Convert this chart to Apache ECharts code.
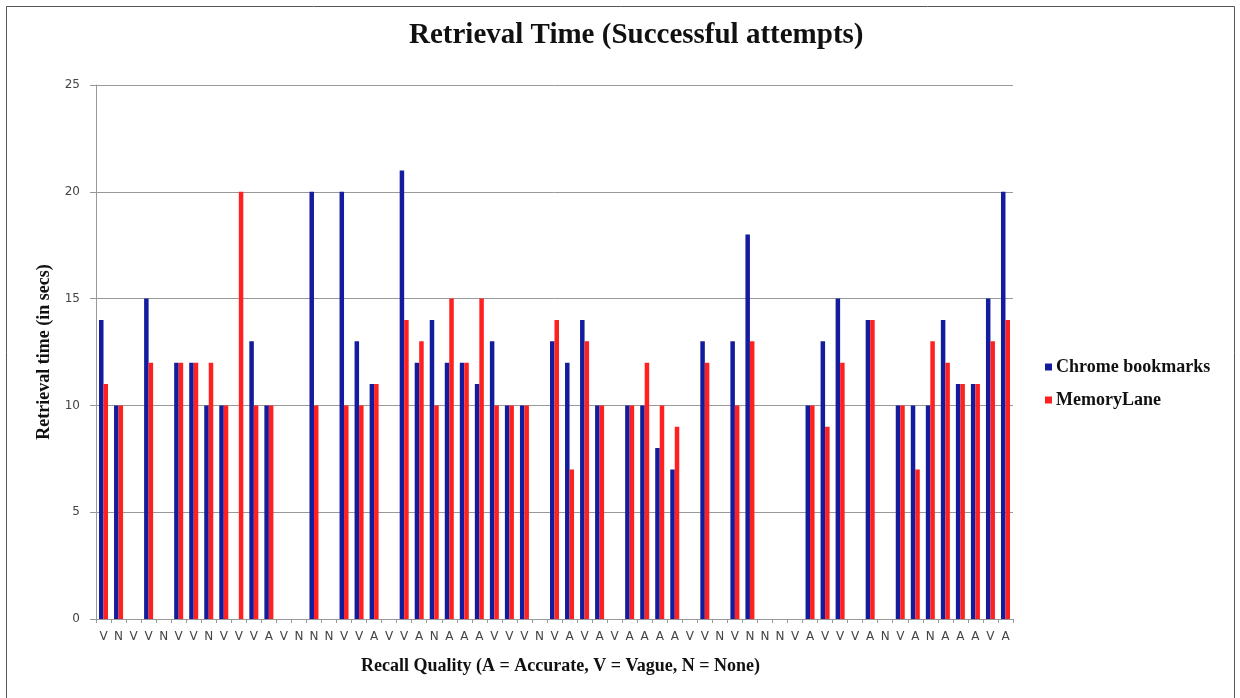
<!DOCTYPE html>
<html>
<head>
<meta charset="utf-8">
<title>Retrieval Time (Successful attempts)</title>
<script src="https://cdn.jsdelivr.net/npm/echarts@6/dist/echarts.min.js"></script>
<style>
  html, body { margin: 0; padding: 0; background: #ffffff; }
  #chart { width: 1240px; height: 698px; }
</style>
</head>
<body>
<div id="chart"></div>
<script>
// Recall quality for each trial: A = Accurate, V = Vague, N = None
const recallQuality = [
  'V','N','V','V','N','V','V','N','V','V','V','A','V','N','N','N','V','V','A','V',
  'V','A','N','A','A','A','V','V','V','N','V','A','V','A','V','A','A','A','A','V',
  'V','N','V','N','N','N','V','A','V','V','V','A','N','V','A','N','A','A','A','V','A'
];

// Retrieval time in seconds (null = no successful attempt)
const chromeBookmarks = [
  14, 10, null, 15, null, 12, 12, 10, 10, null, 13, 10, null, null, 20, null, 20, 13, 11, null,
  21, 12, 14, 12, 12, 11, 13, 10, 10, null, 13, 12, 14, 10, null, 10, 10, 8, 7, null,
  13, null, 13, 18, null, null, null, 10, 13, 15, null, 14, null, 10, 10, 10, 14, 11, 11, 15, 20
];

const memoryLane = [
  11, 10, null, 12, null, 12, 12, 12, 10, 20, 10, 10, null, null, 10, null, 10, 10, 11, null,
  14, 13, 10, 15, 12, 15, 10, 10, 10, null, 14, 7, 13, 10, null, 10, 12, 10, 9, null,
  12, null, 10, 13, null, null, null, 10, 9, 12, null, 14, null, 10, 7, 13, 12, 11, 11, 13, 14
];

const yTicks = { min: 0, max: 25, interval: 5 };

const serif = '"Liberation Serif", "Times New Roman", serif';
const sans = '"DejaVu Sans", Verdana, sans-serif';

const chart = echarts.init(document.getElementById('chart'), null, { renderer: 'canvas' });

chart.setOption({
  backgroundColor: '#ffffff',
  animation: false,
  graphic: [{
    type: 'rect',
    left: 4, top: 4,
    shape: { width: 1228, height: 710 },
    style: { fill: 'none', stroke: '#555555', lineWidth: 1 },
    silent: true
  }],
  title: {
    text: 'Retrieval Time (Successful attempts)',
    left: 404,
    top: 16,
    textStyle: { fontFamily: serif, fontWeight: 'bold', fontSize: 29, color: '#111111' }
  },
  legend: {
    orient: 'vertical',
    left: 1040,
    top: 353,
    itemWidth: 7,
    itemHeight: 7,
    itemGap: 15,
    icon: 'rect',
    textStyle: { fontFamily: serif, fontWeight: 'bold', fontSize: 18, color: '#111111', padding: [0, 0, 0, -1] },
    data: ['Chrome bookmarks', 'MemoryLane']
  },
  grid: { left: 96, top: 85, width: 917, height: 534, containLabel: false },
  xAxis: {
    type: 'category',
    data: recallQuality,
    name: 'Recall Quality (A = Accurate, V = Vague, N = None)',
    nameLocation: 'middle',
    nameGap: 38,
    nameTextStyle: { fontFamily: serif, fontWeight: 'bold', fontSize: 18, color: '#111111', padding: [0, 0, 0, 12] },
    axisLine: { lineStyle: { color: '#999999', width: 1 } },
    axisTick: { show: true, length: 4, lineStyle: { color: '#999999' } },
    axisLabel: { interval: 0, margin: 12, fontFamily: sans, fontSize: 12, color: '#444444' },
    splitLine: { show: false }
  },
  yAxis: {
    type: 'value',
    min: yTicks.min,
    max: yTicks.max,
    interval: yTicks.interval,
    name: 'Retrieval time (in secs)',
    nameLocation: 'middle',
    nameGap: 33,
    nameTextStyle: { fontFamily: serif, fontWeight: 'bold', fontSize: 18, color: '#111111' },
    axisLine: { show: true, lineStyle: { color: '#999999', width: 1 } },
    axisTick: { show: true, length: 6, lineStyle: { color: '#999999' } },
    axisLabel: { margin: 16, fontFamily: sans, fontSize: 12, color: '#444444' },
    splitLine: { show: true, lineStyle: { color: '#999999', width: 1 } }
  },
  series: [
    {
      name: 'Chrome bookmarks',
      type: 'bar',
      data: chromeBookmarks,
      barWidth: 4.5,
      barGap: '0%',
      itemStyle: { color: '#121c9c' }
    },
    {
      name: 'MemoryLane',
      type: 'bar',
      data: memoryLane,
      barWidth: 4.5,
      barGap: '0%',
      itemStyle: { color: '#ff2020' }
    }
  ]
});
</script>
</body>
</html>
